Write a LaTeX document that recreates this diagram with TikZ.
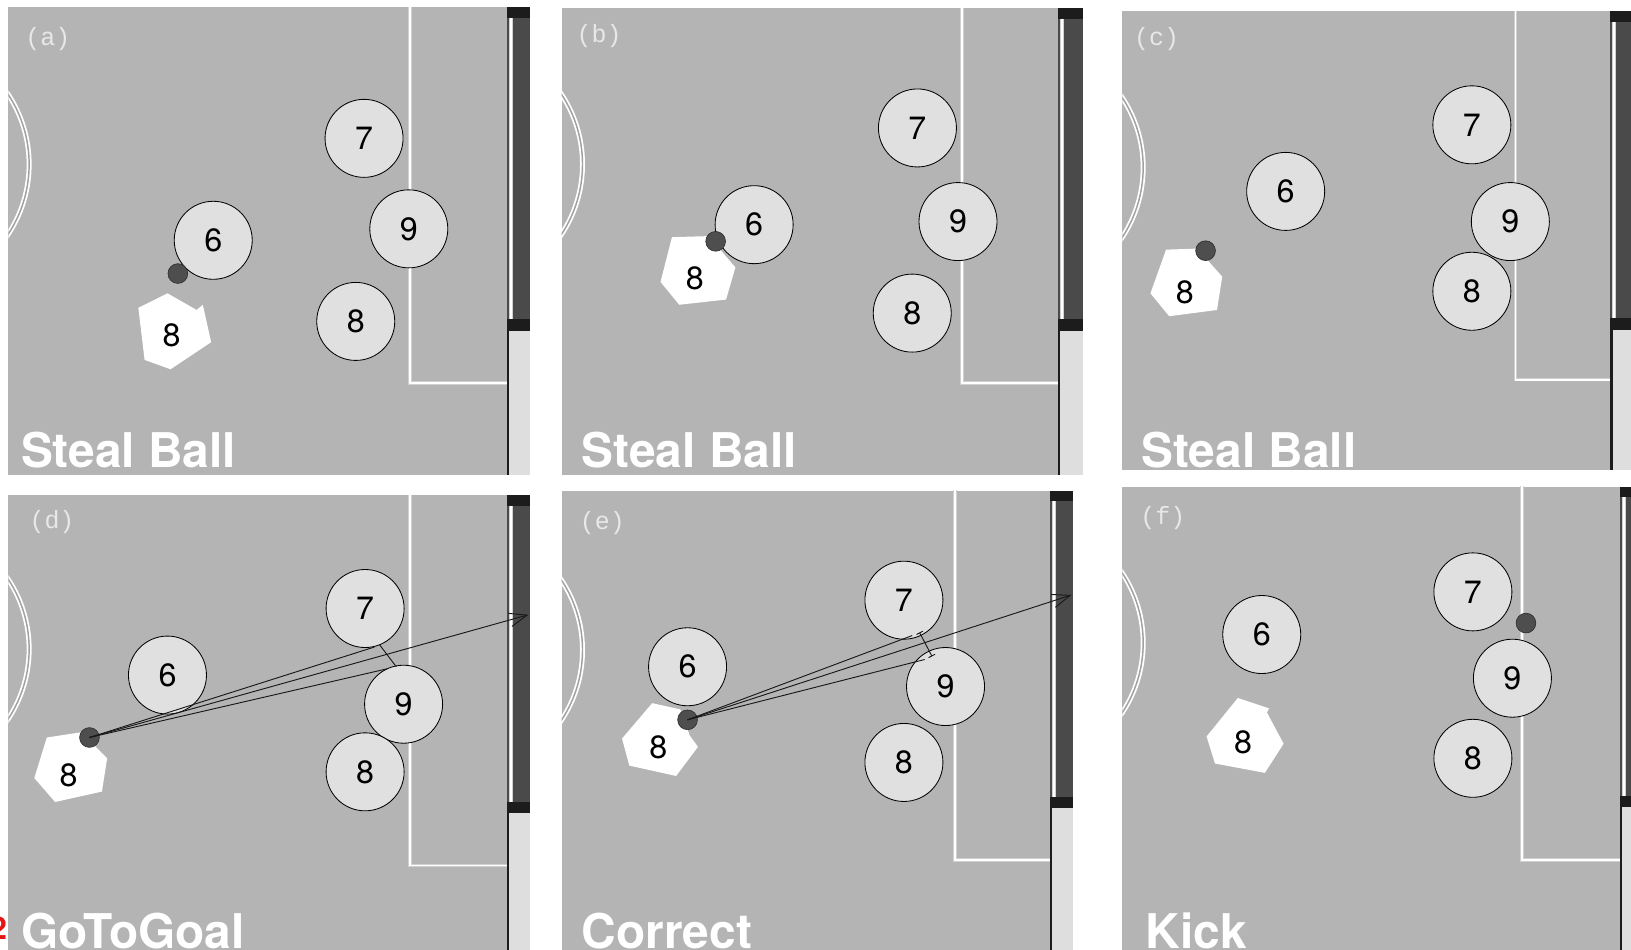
\documentclass[tikz,border=0pt]{standalone}
\usepackage{fontspec}
\setmainfont{TeX Gyre Heros}
\newfontfamily\monof{Liberation Mono}
\usetikzlibrary{arrows.meta}
\definecolor{bgc}{RGB}{180,180,180}
\definecolor{plrc}{RGB}{224,224,224}
\definecolor{goaldark}{RGB}{74,74,74}
\definecolor{goalcap}{RGB}{28,28,28}
\definecolor{goallight}{RGB}{222,222,222}
\definecolor{ballc}{RGB}{78,78,78}
\definecolor{lblc}{RGB}{232,232,232}
\definecolor{flank}{RGB}{208,208,208}
\definecolor{arcmid}{RGB}{160,160,160}
\definecolor{redmark}{RGB}{230,20,20}
\tikzset{
  player/.style={circle, draw=black, line width=0.8pt, fill=plrc, minimum size=75pt, inner sep=0pt, font=\fontsize{31}{31}\selectfont},
  pnum/.style={inner sep=0pt, font=\fontsize{31}{31}\selectfont},
  ballst/.style={circle, fill=ballc, draw={rgb,255:red,45;green,45;blue,45}, line width=0.6pt, minimum size=19pt, inner sep=0pt},
  lab/.style={text=lblc, inner sep=0pt, font=\monof\fontsize{24}{24}\selectfont},
  ttl/.style={anchor=base west, text=white, inner sep=0pt, font=\bfseries\fontsize{46}{46}\selectfont},
  shot/.style={draw={rgb,255:red,25;green,25;blue,25}, line width=0.9pt},
  shotarrow/.style={shot, -{Straight Barb[length=17pt,width=13pt]}},
  arcline/.style={draw=white, line width=1.7pt, double=arcmid, double distance=1.4pt},
  boxouter/.style={draw=flank, line width=3.4pt},
  boxinner/.style={draw=white, line width=1.6pt},
}
% #1 L, #2 T, #3 R, #4 B, #5 goal left, #6 mid cap top, #7 box x, #8 box y, #9 arc centre y
\newcommand{\fieldpanel}[9]{%
  \fill[bgc] (#1,#2) rectangle (#3,#4);
  \begin{scope}
    \clip (#1,#2) rectangle (#3,#4);
    \draw[arcline] ({#1+20-122},#9) circle[radius=122pt];
    \draw[boxouter] (#7,#2-5) |- (#5,#8);
    \draw[boxinner] (#7,#2-5) |- (#5,#8);
    \fill[goaldark] (#5,#2) rectangle (#3,#6);
    \fill[goalcap] (#5,#2) rectangle (#3,#2+10);
    \draw[draw=flank, line width=4pt] (#5+4,#2+10) -- (#5+4,#6);
    \draw[draw=white, line width=2pt] (#5+4,#2+10) -- (#5+4,#6);
    \fill[goalcap] (#5,#6) rectangle (#3,#6+11);
    \fill[goallight] (#5,#6+11) rectangle (#3,#4);
    \draw[draw=goalcap, line width=2.5pt] (#5+1.25,#6+11) -- (#5+1.25,#4);
  \end{scope}
}
\begin{document}
\begin{tikzpicture}[x=1pt,y=-1pt]
\fill[white] (0,0) rectangle (1568,913);
\useasboundingbox (0,0) rectangle (1568,913);

% ---------------- (a) ----------------
\fieldpanel{8}{7}{510}{457}{487}{307}{394}{368}{158}
\node[player] (a7) at (350,133) {7};
\node[player] (a9) at (393,220) {9};
\node[player] (a6) at (205,231) {6};
\node[player] (a8) at (342,309) {8};
\fill[white] (133,296) -- (161,282) -- (189,298) -- (195,293) -- (203,329) -- (164,355) -- (139,346) -- cycle;
\node[pnum] (a8p) at (165,322) {8};
\node[ballst] (aball) at (171,263) {};
\node[lab] (alab) at (46,38) {(a)};
\node[ttl] (attl) at (20,449) {Steal Ball};

% ---------------- (b) ----------------
\fieldpanel{540}{8}{1041}{457}{1017}{307}{925}{368}{158}
\node[player] (b7) at (882,123) {7};
\node[player] (b9) at (921,213) {9};
\node[player] (b6) at (725,216) {6};
\node[player] (b8) at (877,301) {8};
\fill[white] (646,228) -- (681,227) -- (707,257) -- (698,288) -- (653,293) -- (635,271) -- cycle;
\node[pnum] (b8p) at (668,268) {8};
\node[ballst] (bball) at (688,232) {};
\node[lab] (blab) at (576,35) {(b)};
\node[ttl] (bttl) at (559,449) {Steal Ball};

% ---------------- (c) ----------------
\fieldpanel{1079}{11}{1568}{452}{1548}{306}{1457}{365}{161}
\node[player] (c7) at (1415,120) {7};
\node[player] (c9) at (1452,213) {9};
\node[player] (c6) at (1236,184) {6};
\node[player] (c8) at (1415,280) {8};
\fill[white] (1121,240) -- (1151,239) -- (1175,266) -- (1170,298) -- (1124,304) -- (1106,282) -- cycle;
\node[pnum] (c8p) at (1139,281) {8};
\node[ballst] (cball) at (1159,241) {};
\node[lab] (clab) at (1112,38) {(c)};
\node[ttl] (cttl) at (1097,449) {Steal Ball};

% ---------------- (d) ----------------
\fieldpanel{8}{476}{510}{913}{487}{771}{394}{832}{624}
\node[player] (d7) at (351,585) {7};
\node[player] (d9) at (388,677) {9};
\node[player] (d6) at (161,649) {6};
\node[player] (d8) at (351,742) {8};
\fill[white] (45,709) -- (78,704) -- (103,729) -- (98,761) -- (53,771) -- (33,748) -- cycle;
\node[pnum] (d8p) at (66,745) {8};
\node[ballst] (dball) at (86,709) {};
\coordinate (d7p) at (360,622);
\coordinate (d9p) at (372,643);
\coordinate (dtip) at (508,591);
\coordinate (dc1) at (365,620);
\coordinate (dc2) at (381,641);
\draw[shot] (dball.center) -- (d7p);
\draw[shot] (dball.center) -- (d9p);
\draw[shotarrow] (dball.center) -- (dtip);
\draw[shot] (dc1) -- (dc2);
\node[lab] (dlab) at (50,502) {(d)};
\node[ttl] (dttl) at (20,912) {GoToGoal};

% ---------------- (e) ----------------
\fieldpanel{540}{472}{1032}{913}{1009}{766}{918}{827}{625}
\node[player] (e7) at (869,577) {7};
\node[player] (e9) at (909,660) {9};
\node[player] (e6) at (661,641) {6};
\node[player] (e8) at (869,733) {8};
\fill[white] (627,676) -- (654,682) -- (663,707) -- (671,718) -- (650,746) -- (605,736) -- (598,710) -- cycle;
\node[pnum] (e8p) at (633,718) {8};
\node[ballst] (eball) at (661,692) {};
\coordinate (e7p) at (877,611);
\coordinate (e9p) at (889,634);
\coordinate (etip) at (1030,572);
\coordinate (ec1) at (884,608);
\coordinate (ec2) at (896,631);
\draw[shot] (eball.center) -- (e7p);
\draw[shot] (eball.center) -- (e9p);
\draw[shotarrow] (eball.center) -- (etip);
\draw[shot, {Bar[width=7pt]}-{Bar[width=7pt]}] (ec1) -- (ec2);
\node[lab] (elab) at (579,503) {(e)};
\node[ttl] (ettl) at (559,912) {Correct};

% ---------------- (f) ----------------
\fieldpanel{1079}{468}{1568}{913}{1557}{765}{1463}{827}{618}
\node[player] (f7) at (1416,569) {7};
\node[player] (f9) at (1454,652) {9};
\node[player] (f6) at (1213,610) {6};
\node[player] (f8) at (1416,729) {8};
\fill[white] (1190,671) -- (1220,681) -- (1218,685) -- (1234,715) -- (1216,743) -- (1168,734) -- (1160,708) -- cycle;
\node[pnum] (f8p) at (1195,714) {8};
\node[ballst] (fball) at (1467,599) {};
\node[lab] (flab) at (1118,498) {(f)};
\node[ttl] (fttl) at (1101,912) {Kick};

% red fragment at the left edge
\node[anchor=base east, inner sep=0pt, text=redmark, font=\bfseries\fontsize{30}{30}\selectfont] (redfrag) at (7,903) {2};
\end{tikzpicture}
\end{document}
